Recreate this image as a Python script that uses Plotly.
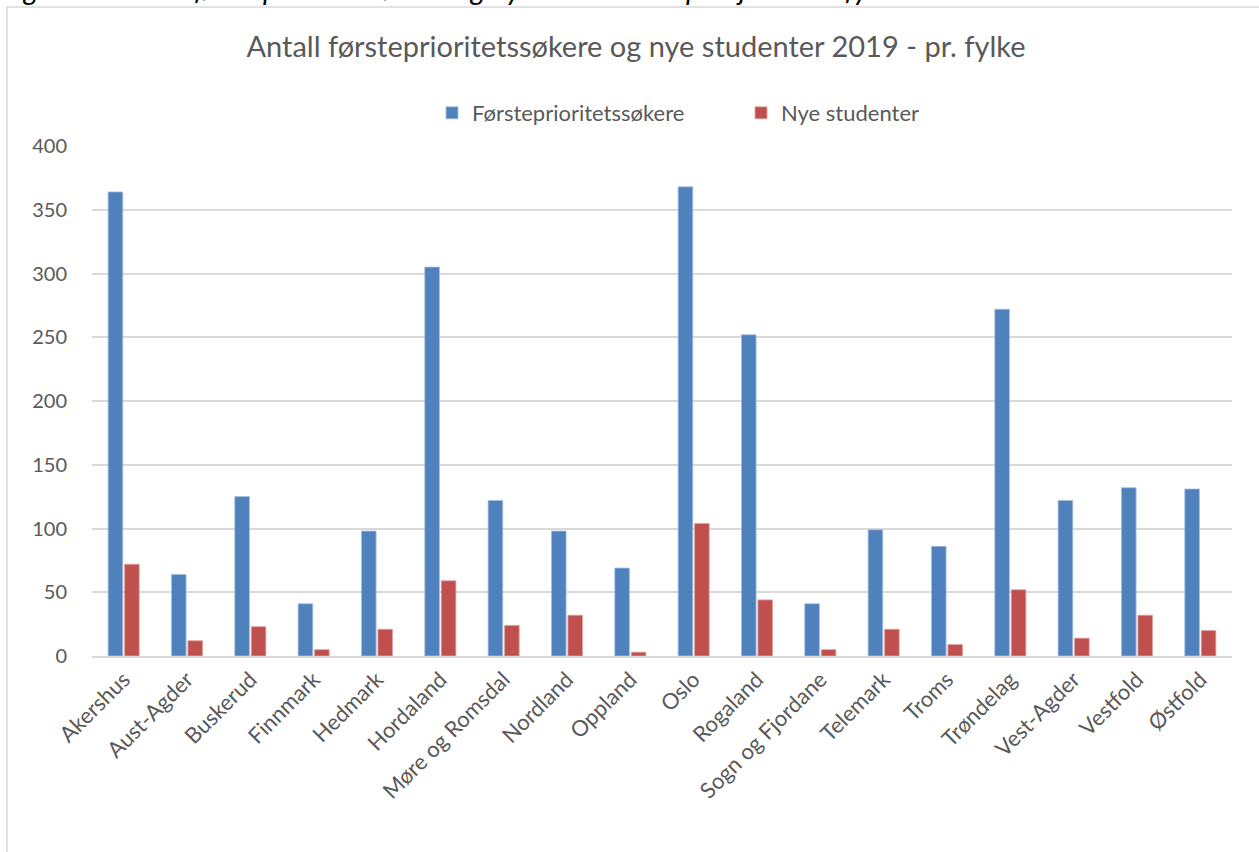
import plotly.graph_objects as go

categories = ["Akershus", "Aust-Agder", "Buskerud", "Finnmark", "Hedmark", "Hordaland",
              "Møre og Romsdal", "Nordland", "Oppland", "Oslo", "Rogaland",
              "Sogn og Fjordane", "Telemark", "Troms", "Trøndelag", "Vest-Agder",
              "Vestfold", "Østfold"]
forsteprioritet = [364, 64, 125, 41, 98, 305, 122, 98, 69, 368, 252, 41, 99, 86, 272, 122, 132, 131]
nye_studenter = [72, 12, 23, 5, 21, 59, 24, 32, 3, 104, 44, 5, 21, 9, 52, 14, 32, 20]
y_ticks = [0, 50, 100, 150, 200, 250, 300, 350, 400]

FONT = "Lato"
GREY = "#595959"

fig = go.Figure()
fig.add_trace(go.Bar(name="Førsteprioritetssøkere", x=categories, y=forsteprioritet,
                     marker=dict(color="#4F81BD", line=dict(color="#A7C0E0", width=0.8))))
fig.add_trace(go.Bar(name="Nye studenter", x=categories, y=nye_studenter,
                     marker=dict(color="#C0504D", line=dict(color="#E2A4A2", width=0.8))))

W, H = 1259, 852
L, R, T, B = 92, 27, 146, 196
pw, ph = W - L - R, H - T - B

def px(x):
    return (x - L) / pw

def py(y):
    return (H - B - y) / ph

fig.update_layout(
    width=W, height=H,
    margin=dict(l=L, r=R, t=T, b=B, autoexpand=False),
    paper_bgcolor="white", plot_bgcolor="white",
    font=dict(family=FONT, color=GREY),
    barmode="group", bargap=0.48, bargroupgap=0.11,
    title=dict(text="Antall førsteprioritetssøkere og nye studenter 2019 - pr. fylke",
               x=636 / W, xanchor="center", y=1 - 47 / H, yanchor="middle",
               font=dict(family=FONT, size=29, color=GREY)),
    legend=dict(orientation="h", x=px(432), xanchor="left", y=py(113), yanchor="middle",
                font=dict(family=FONT, size=22, color=GREY), bgcolor="rgba(0,0,0,0)",
                entrywidth=264, entrywidthmode="pixels"),
    showlegend=True,
    xaxis=dict(tickangle=-45, tickfont=dict(family=FONT, size=22, color=GREY),
               showgrid=False, showline=True, linecolor="#D9D9D9", linewidth=2,
               ticks="", ticklabelstandoff=0),
    yaxis=dict(range=[0, 400], tickvals=y_ticks, showgrid=True, gridcolor="#D9D9D9",
               gridwidth=1.5, zeroline=False, showline=False,
               tickfont=dict(family=FONT, size=20, color=GREY), ticks="",
               ticklabelstandoff=24),
    shapes=[dict(type="rect", xref="paper", yref="paper",
                 x0=px(7), x1=px(W + 20), y0=py(H + 20), y1=py(7),
                 line=dict(color="#D9D9D9", width=1.5), fillcolor="rgba(0,0,0,0)", layer="below")],
    annotations=[dict(text="<i>Figur 1.4 Antall førsteprioritetssøkere og nye studenter – pr. hjemstedsfylke</i>",
                      xref="paper", yref="paper", x=px(0), xanchor="left",
                      y=py(8), yanchor="bottom", showarrow=False, align="left",
                      font=dict(family=FONT, size=29, color="black"))],
)

fig.write_html("out.html", config={"displayModeBar": False},
               post_script="document.body.style.margin='0';")
